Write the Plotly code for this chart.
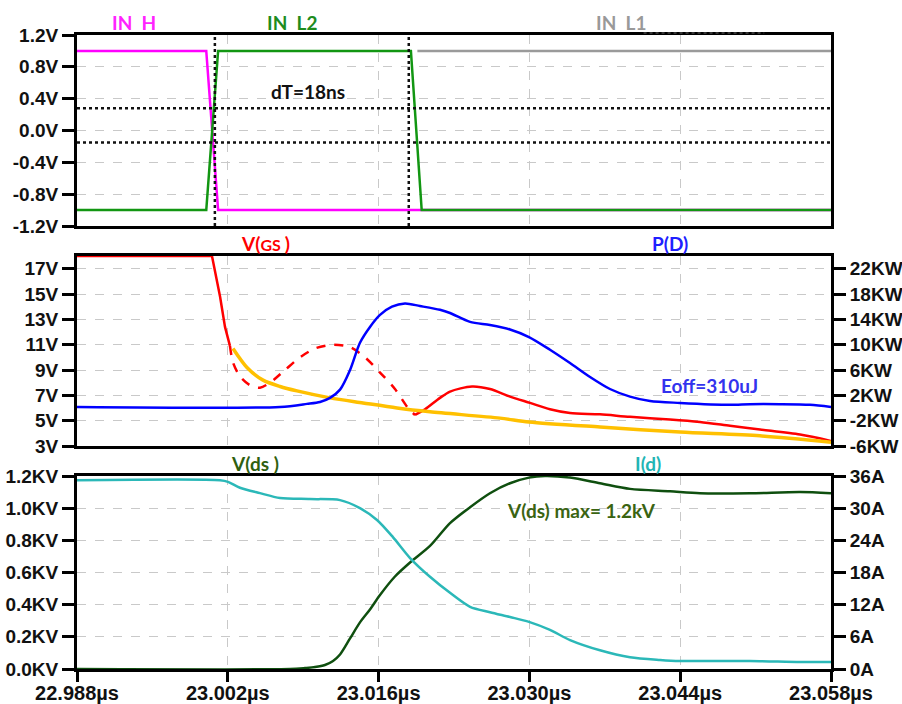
import plotly.graph_objects as go

# ---------------- time axis (µs) ----------------
T_START, T_END = 22.988, 23.058
x_ticks = [22.988, 23.002, 23.016, 23.030, 23.044, 23.058]
x_tick_text = [f"{v:.3f}µs" for v in x_ticks]

# ---------------- gate driver inputs (V) ----------------
in_h_t = [22.988, 23.0000, 23.0011, 23.058]
in_h_v = [1.0, 1.0, -1.0, -1.0]

in_l2_t = [22.988, 23.0000, 23.0011, 23.0190, 23.0200, 23.058]
in_l2_v = [-1.0, -1.0, 1.0, 1.0, -1.0, -1.0]

in_l1_t = [23.0196, 23.058]
in_l1_v = [1.0, 1.0]

# cursors
cursor_a = 23.0008
dT_ns = 18
cursor_b = cursor_a + dT_ns / 1000.0
cursor_levels = [0.28, -0.15]

top_ticks = [-1.2, -0.8, -0.4, 0.0, 0.4, 0.8, 1.2]

# ---------------- gate voltage, power, reference (middle) ----------------
vgs_t = [22.98800, 23.00053, 23.00128, 23.00174, 23.00220,
         23.00248, 23.00313, 23.00406, 23.00499, 23.00592, 23.00731,
         23.00870, 23.01010, 23.01177, 23.01335, 23.01474, 23.01613,
         23.01752, 23.01873, 23.01938,
         23.02031, 23.02170, 23.02263, 23.02467, 23.02634, 23.02820,
         23.03006, 23.03191, 23.03377, 23.03655, 23.03934, 23.04305,
         23.04584, 23.04862, 23.05141, 23.05513, 23.05800]
vgs_v = [18.0, 18.0, 14.8, 12.4, 10.9,
         9.6, 8.5, 7.8, 7.6, 8.0, 9.0,
         10.0, 10.7, 11.0, 10.8, 10.0, 8.8,
         7.5, 6.0, 5.45,
         5.9, 6.8, 7.3, 7.7, 7.5, 6.9,
         6.4, 5.9, 5.6, 5.5, 5.3, 5.1,
         4.9, 4.6, 4.3, 3.9, 3.4]
vgs_dashed_from, vgs_dashed_to = 23.00220, 23.01938

ref_t = [23.00248, 23.00378, 23.00527, 23.00685, 23.00842, 23.01149,
         23.01455, 23.01771, 23.02077, 23.02727, 23.02996, 23.03655,
         23.04398, 23.05141, 23.05800]
ref_v = [10.7, 9.2, 8.2, 7.7, 7.35, 6.8,
         6.4, 6.0, 5.7, 5.2, 4.9, 4.5,
         4.1, 3.8, 3.3]

pd_t = [22.98800, 23.00685, 23.00935, 23.01056, 23.01149, 23.01242,
        23.01335, 23.01427, 23.01520, 23.01613, 23.01724, 23.01845,
        23.01984, 23.02170, 23.02263, 23.02449, 23.02634, 23.02820,
        23.02996, 23.03191, 23.03377, 23.03563, 23.03748, 23.03934,
        23.04120, 23.04398, 23.04862, 23.05048, 23.05327, 23.05605,
        23.05800]
pd_kw = [0.17, 0.17, 0.65, 0.96, 1.6, 2.9,
         6.0, 10.3, 12.8, 14.7, 16.0, 16.5,
         16.1, 15.5, 15.0, 13.6, 13.1, 12.4,
         11.2, 9.2, 7.1, 4.9, 3.0, 1.8,
         1.1, 0.8, 0.5, 0.6, 0.6, 0.5,
         0.17]

mid_left_ticks = [3, 5, 7, 9, 11, 13, 15, 17]
mid_right_ticks = [-6, -2, 2, 6, 10, 14, 18, 22]

# ---------------- drain voltage and current (bottom) ----------------
vds_t = [22.98800, 23.00778, 23.00917, 23.01010, 23.01102, 23.01177,
         23.01242, 23.01335, 23.01427, 23.01520, 23.01613, 23.01752,
         23.01892, 23.02077, 23.02263, 23.02449, 23.02634, 23.02820,
         23.02996, 23.03145, 23.03377, 23.03655, 23.03934, 23.04305,
         23.04584, 23.05048, 23.05513, 23.05800]
vds_kv = [0.0, 0.0, 0.006, 0.012, 0.025, 0.05,
          0.09, 0.19, 0.29, 0.37, 0.46, 0.575,
          0.662, 0.765, 0.907, 1.006, 1.093, 1.155,
          1.19, 1.2, 1.19, 1.155, 1.12, 1.105,
          1.093, 1.093, 1.1, 1.093]

id_t = [22.98800, 23.00128, 23.00202, 23.00313, 23.00499, 23.00685,
        23.00963, 23.01242, 23.01427, 23.01585, 23.01733, 23.01892,
        23.02077, 23.02263, 23.02449, 23.02634, 23.02820, 23.02996,
        23.03191, 23.03377, 23.03655, 23.03934, 23.04213, 23.04398,
        23.05048, 23.05513, 23.05800]
id_a = [35.2, 35.2, 34.9, 33.8, 32.8, 31.9,
        31.7, 31.5, 30.0, 27.8, 24.6, 20.7,
        17.2, 14.2, 11.6, 10.6, 9.7, 8.8,
        7.3, 5.4, 3.5, 2.2, 1.7, 1.5,
        1.5, 1.3, 1.3]

bot_left_ticks = [0.0, 0.2, 0.4, 0.6, 0.8, 1.0, 1.2]
bot_right_ticks = [0, 6, 12, 18, 24, 30, 36]

# ---------------- figure ----------------
W, H = 902, 704


def px(x):
    return x / W


def py(y):
    return 1 - y / H


X_DOM = [px(77), px(831)]
TOP_DOM = [py(226), py(35)]
MID_DOM = [py(446), py(256)]
BOT_DOM = [py(669), py(476)]

TICK_FONT = dict(family="Liberation Sans, Arial", size=19, color="#111111", weight="bold")
LABEL_FONT = "Lato, Open Sans, sans-serif"
GRID = dict(showgrid=True, gridcolor="#c9c9c9", griddash="dash", gridwidth=1)
FRAME = dict(showline=True, linecolor="black", linewidth=3, zeroline=False, automargin=False)

fig = go.Figure()


def line(x, y, xa, ya, color, width=2.5, dash="solid", shape="spline"):
    fig.add_trace(go.Scatter(x=x, y=y, xaxis=xa, yaxis=ya, mode="lines",
                             line=dict(color=color, width=width, dash=dash, shape=shape,
                                       smoothing=0.8 if shape == "spline" else None),
                             hoverinfo="skip", showlegend=False))


# top panel
line(in_l1_t, in_l1_v, "x", "y", "#9a9a9a", shape="linear")
line(in_h_t, in_h_v, "x", "y", "#ff00ff", shape="linear")
line(in_l2_t, in_l2_v, "x", "y", "#129612", shape="linear")

# middle panel
line(pd_t, pd_kw, "x2", "y3", "#0000ff")


def vgs_slice(lo, hi):
    idx = [i for i, t in enumerate(vgs_t) if lo <= t <= hi]
    return [vgs_t[i] for i in idx], [vgs_v[i] for i in idx]


t_a, v_a = vgs_slice(T_START, vgs_dashed_from)
t_b, v_b = vgs_slice(vgs_dashed_from, vgs_dashed_to)
t_c, v_c = vgs_slice(vgs_dashed_to, T_END)
line(t_a, v_a, "x2", "y2", "#ff0000", shape="linear")
line(t_b, v_b, "x2", "y2", "#ff0000", dash="dash")
line(t_c, v_c, "x2", "y2", "#ff0000")
line(ref_t, ref_v, "x2", "y2", "#ffc000", width=3.5)

# bottom panel
line(vds_t, vds_kv, "x3", "y4", "#0f4f0f")
line(id_t, id_a, "x3", "y5", "#2bb8b8")

x_common = dict(range=[T_START, T_END], domain=X_DOM, tickvals=x_ticks, mirror=True, **GRID, **FRAME)

layout = dict(
    width=W, height=H,
    margin=dict(l=0, r=0, t=0, b=0, autoexpand=False),
    paper_bgcolor="white", plot_bgcolor="white",
    showlegend=False,
    xaxis=dict(anchor="y", showticklabels=False, ticks="", **x_common),
    xaxis2=dict(anchor="y2", showticklabels=False, ticks="", **x_common),
    xaxis3=dict(anchor="y4", ticktext=x_tick_text, ticks="outside", ticklen=10, tickwidth=2.5,
                tickcolor="black", tickfont=dict(TICK_FONT, size=20), ticklabelstandoff=-6,
                **x_common),
    yaxis=dict(anchor="x", domain=TOP_DOM, range=[-1.2, 1.2], tickvals=top_ticks,
               ticktext=[f"{v:.1f}V" for v in top_ticks], ticks="outside", ticklen=12,
               tickwidth=2.5, tickcolor="black", tickfont=TICK_FONT, mirror=True, **GRID, **FRAME),
    yaxis2=dict(anchor="x2", domain=MID_DOM, range=[3, 18], tickvals=mid_left_ticks,
                ticktext=[f"{v}V" for v in mid_left_ticks], ticks="outside", ticklen=12,
                tickwidth=2.5, tickcolor="black", tickfont=TICK_FONT, mirror=True, **GRID, **FRAME),
    yaxis3=dict(anchor="x2", overlaying="y2", side="right", range=[-6, 24], tickvals=mid_right_ticks,
                ticktext=[f"{v}KW" for v in mid_right_ticks], ticks="outside", ticklen=12,
                tickwidth=2.5, tickcolor="black", tickfont=TICK_FONT, showgrid=False, **FRAME),
    yaxis4=dict(anchor="x3", domain=BOT_DOM, range=[0, 1.2], tickvals=bot_left_ticks,
                ticktext=[f"{v:.1f}KV" for v in bot_left_ticks], ticks="outside", ticklen=12,
                tickwidth=2.5, tickcolor="black", tickfont=TICK_FONT, mirror=True, **GRID, **FRAME),
    yaxis5=dict(anchor="x3", overlaying="y4", side="right", range=[0, 36], tickvals=bot_right_ticks,
                ticktext=[f"{v}A" for v in bot_right_ticks], ticks="outside", ticklen=12,
                tickwidth=2.5, tickcolor="black", tickfont=TICK_FONT, showgrid=False, **FRAME),
)
fig.update_layout(**layout)

# cursor lines on the input panel
shapes = []
for c in (cursor_a, cursor_b):
    shapes.append(dict(type="line", xref="x", yref="y", x0=c, x1=c, y0=-1.2, y1=1.2,
                       line=dict(color="#111111", width=2.5, dash="dot")))
for lvl in cursor_levels:
    shapes.append(dict(type="line", xref="x", yref="y", x0=T_START, x1=T_END, y0=lvl, y1=lvl,
                       line=dict(color="#111111", width=2.5, dash="dot")))
shapes.append(dict(type="line", xref="x", yref="paper", x0=23.0406, x1=23.0518,
                   y0=py(33), y1=py(33), line=dict(color="#333333", width=2, dash="dot")))
fig.update_layout(shapes=shapes)

NB = "\u00a0"


def label(text, x, y, color, size=19):
    fig.add_annotation(text=text, x=px(x), y=py(y), xref="paper", yref="paper",
                       showarrow=False, xanchor="center", yanchor="middle",
                       font=dict(family=LABEL_FONT, size=size, color=color, weight="bold"))


label(f"IN{NB}{NB}H", 134, 22, "#ff22ff")
label(f"IN{NB}{NB}L2", 292, 22, "#1e8c1e")
label(f"IN{NB}{NB}L1", 621, 22, "#999999")
label(f"dT={dT_ns}ns", 308, 91, "#111111")
label(f"V(<span style='font-size:16px'>GS{NB}</span>)", 265, 243, "#ff0000")
label("P(D)", 670, 243, "#2020ff")
label("Eoff=310uJ", 709, 385, "#3333ee")
label(f"V(ds{NB})", 255, 463, "#2f5f10")
label("I(d)", 648, 463, "#22b5b5")
label(f"V(ds) max= {max(vds_kv):.1f}kV", 581, 510, "#3a6412")

fig.write_html("out.html")
